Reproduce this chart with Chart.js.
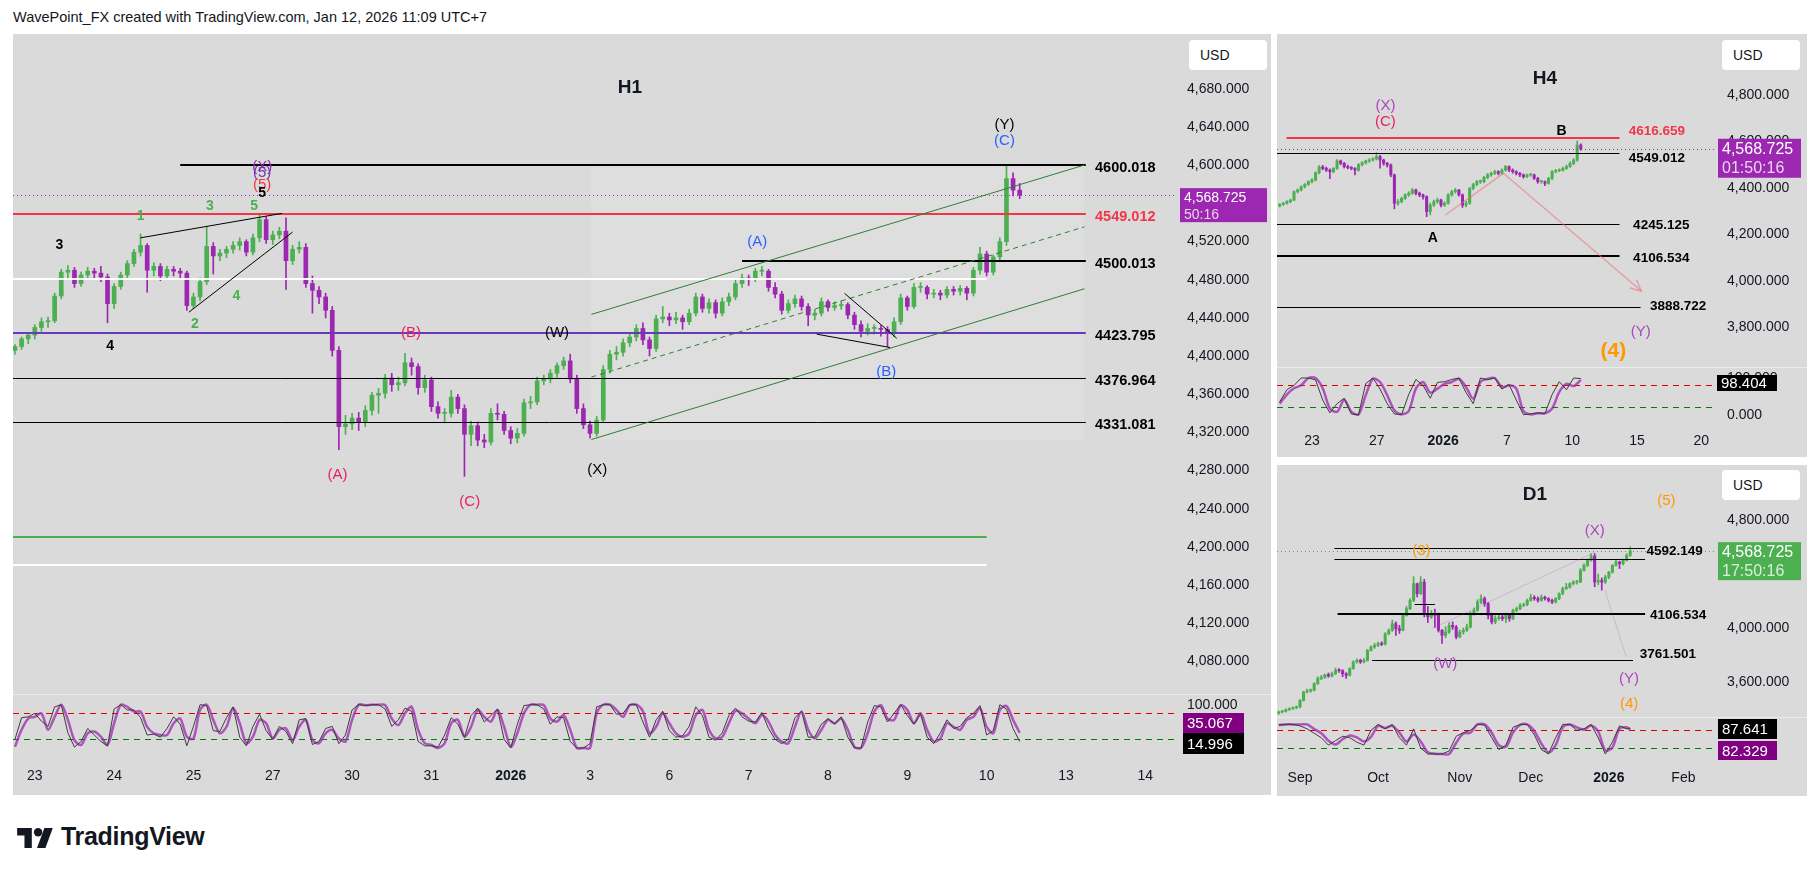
<!DOCTYPE html>
<html lang="en">
<head>
<meta charset="UTF-8" />
<title>XAUUSD H1 / H4 / D1</title>
<script src="https://cdn.jsdelivr.net/npm/chart.js"></script>
<style>
  body { margin: 0; width: 1819px; height: 871px; background: #fff; position: relative; overflow: hidden;
         font-family: "Liberation Sans", Arial, sans-serif; color: #131722; }
  .panel { position: absolute; background: #dadada; }
  canvas { position: absolute; }
  .usd { position: absolute; width: 78px; height: 30px; background: #fff; border-radius: 4px;
         font-size: 14px; line-height: 30px; padding-left: 11px; box-sizing: border-box; }
  .title { position: absolute; font-weight: bold; font-size: 19px; transform: translate(-50%, -50%); }
</style>
</head>
<body>
<div style="position:absolute;left:13px;top:9px;font-size:14.5px">WavePoint_FX created with TradingView.com, Jan 12, 2026 11:09 UTC+7</div>

<div class="panel" style="left:13px;top:34px;width:1258px;height:761px"></div>
<div class="panel" style="left:1277px;top:34px;width:530px;height:423px"></div>
<div class="panel" style="left:1277px;top:465px;width:530px;height:331px"></div>

<canvas id="h1p" width="1258" height="660" style="left:13px;top:34px"></canvas>
<canvas id="h1s" width="1258" height="101" style="left:13px;top:694px"></canvas>
<canvas id="h4p" width="530" height="333" style="left:1277px;top:34px"></canvas>
<canvas id="h4s" width="530" height="90" style="left:1277px;top:367px"></canvas>
<canvas id="d1p" width="530" height="252" style="left:1277px;top:465px"></canvas>
<canvas id="d1s" width="530" height="79" style="left:1277px;top:717px"></canvas>

<div class="usd" style="left:1189px;top:40px">USD</div>
<div class="usd" style="left:1722px;top:40px">USD</div>
<div class="usd" style="left:1722px;top:470px">USD</div>
<div class="title" style="left:630px;top:87px">H1</div>
<div class="title" style="left:1545px;top:78px">H4</div>
<div class="title" style="left:1535px;top:494px">D1</div>

<div style="position:absolute;left:17px;top:822px;display:flex;align-items:center">
  <svg width="38" height="22" viewBox="0 0 36 21"><path d="M14 21H7V9H0V2h14z" fill="#131722"/><circle cx="20" cy="6" r="4" fill="#131722"/><path d="M27 21h-8l7-19h8z" fill="#131722"/></svg>
  <span style="font-weight:bold;font-size:25px;margin-left:6px;letter-spacing:-0.3px">TradingView</span>
</div>

<script>
const FONT = '"Liberation Sans", Arial, sans-serif';
const UP = '#4caf50';
const DOWN = '#9c27b0';

// ---- H1 (2-hour candles, 12 per session; index 0 = session "23") ----
const h1Start = -3;
const h1FirstOpen = 4406;
const h1Close = [4410, 4418, 4422, 4430, 4436, 4437, 4463, 4488, 4490, 4476, 4485, 4489, 4487,
  4483, 4455, 4473, 4485, 4497, 4509, 4516, 4490, 4494, 4484,
  4491, 4489, 4487, 4453, 4462, 4478, 4515, 4505, 4508, 4512,
  4516, 4520, 4509, 4524, 4543, 4522, 4527, 4531, 4500, 4512,
  4514, 4476, 4469, 4462, 4448, 4406, 4326, 4329, 4335, 4331,
  4343, 4359, 4361, 4377, 4370, 4372, 4393, 4389, 4367, 4375,
  4347, 4340, 4340, 4357, 4345, 4318, 4327, 4312, 4310, 4340,
  4339, 4322, 4314, 4319, 4351, 4352, 4374, 4376, 4382, 4390,
  4395, 4376, 4345, 4328, 4319, 4333, 4386, 4402, 4404, 4414,
  4420, 4429, 4417, 4408, 4439, 4441, 4438, 4440, 4436, 4445,
  4462, 4450, 4456, 4445, 4457, 4462, 4476, 4482, 4481, 4489,
  4489, 4472, 4465, 4448, 4455, 4460, 4452, 4443, 4445, 4457,
  4451, 4453, 4454, 4443, 4433, 4426, 4429, 4429, 4428, 4425,
  4436, 4461, 4452, 4472, 4472, 4465, 4466, 4464, 4470, 4468,
  4471, 4466, 4490, 4507, 4488, 4504, 4520, 4586, 4574, 4568.725];
const h1High = [4412, 4420, 4425, 4433, 4440, 4441, 4466, 4491, 4495, 4493, 4488, 4493, 4492,
  4494, 4486, 4476, 4488, 4500, 4512, 4528, 4518, 4498, 4497,
  4494, 4494, 4492, 4489, 4466, 4482, 4536, 4519, 4512, 4515,
  4520, 4524, 4522, 4528, 4548, 4546, 4531, 4535, 4545, 4516,
  4520, 4518, 4484, 4473, 4466, 4452, 4410, 4338, 4340, 4341,
  4348, 4362, 4366, 4381, 4382, 4378, 4403, 4398, 4392, 4380,
  4378, 4352, 4345, 4364, 4360, 4349, 4332, 4331, 4318, 4345,
  4350, 4342, 4326, 4324, 4355, 4358, 4378, 4380, 4386, 4393,
  4399, 4402, 4380, 4350, 4332, 4337, 4390, 4406, 4410, 4418,
  4424, 4433, 4435, 4420, 4443, 4452, 4445, 4446, 4443, 4449,
  4466, 4465, 4460, 4459, 4461, 4466, 4480, 4486, 4485, 4492,
  4494, 4491, 4477, 4468, 4459, 4464, 4463, 4455, 4449, 4461,
  4459, 4457, 4458, 4456, 4446, 4437, 4434, 4433, 4432, 4431,
  4440, 4465, 4463, 4476, 4477, 4474, 4470, 4469, 4473, 4473,
  4474, 4473, 4493, 4514, 4510, 4506, 4524, 4600, 4592, 4581];
const h1Low = [4402, 4407, 4413, 4418, 4426, 4430, 4435, 4460, 4482, 4472, 4473, 4481, 4482,
  4478, 4435, 4450, 4470, 4482, 4494, 4505, 4467, 4484, 4479,
  4480, 4484, 4482, 4448, 4450, 4458, 4475, 4486, 4500, 4503,
  4508, 4511, 4505, 4506, 4520, 4518, 4517, 4523, 4470, 4496,
  4508, 4472, 4445, 4455, 4440, 4400, 4302, 4318, 4323, 4322,
  4326, 4338, 4340, 4356, 4363, 4364, 4369, 4380, 4360, 4362,
  4342, 4335, 4330, 4336, 4340, 4274, 4306, 4306, 4304, 4307,
  4333, 4318, 4308, 4309, 4316, 4345, 4349, 4370, 4372, 4378,
  4386, 4372, 4340, 4324, 4314, 4316, 4330, 4382, 4396, 4400,
  4410, 4416, 4412, 4400, 4405, 4435, 4432, 4434, 4428, 4433,
  4442, 4446, 4445, 4440, 4442, 4453, 4459, 4472, 4474, 4478,
  4484, 4468, 4461, 4444, 4445, 4451, 4448, 4432, 4438, 4442,
  4447, 4448, 4449, 4439, 4428, 4420, 4422, 4423, 4421, 4410,
  4420, 4433, 4448, 4450, 4467, 4460, 4461, 4459, 4461, 4464,
  4464, 4459, 4463, 4486, 4484, 4485, 4500, 4516, 4568, 4565];
const h1StochK = [20, 70, 72, 80, 62, 50, 95, 100, 35, 2, 15, 45, 30,
  15, 5, 90, 100, 88, 88, 70, 30, 32, 25,
  45, 72, 55, 5, 50, 100, 98, 40, 38, 70,
  95, 25, 5, 50, 78, 40, 20, 50, 38, 10,
  65, 68, 8, 15, 45, 50, 10, 30, 88, 100,
  98, 100, 100, 90, 50, 65, 92, 85, 15, 5,
  5, 2, 30, 70, 55, 25, 75, 92, 60, 75,
  90, 20, 0, 55, 98, 100, 100, 90, 55, 72,
  70, 15, 0, 0, 10, 95, 100, 100, 78, 80,
  100, 100, 60, 25, 65, 85, 40, 25, 28, 50,
  95, 75, 25, 18, 35, 75, 92, 72, 62, 60,
  82, 45, 20, 10, 20, 70, 85, 25, 25, 55,
  68, 55, 72, 25, 0, 0, 60, 98, 95, 60,
  80, 100, 75, 55, 78, 25, 10, 35, 65, 45,
  50, 70, 80, 98, 30, 40, 100, 90, 45, 14.996];
const h1StochD = [3, 42, 68, 72, 80, 42, 72, 100, 65, 18, 7, 34, 38,
  26, 7, 57, 100, 95, 84, 84, 49, 34, 30,
  30, 57, 68, 26, 22, 88, 100, 65, 34, 49,
  92, 57, 11, 26, 65, 57, 22, 42, 45, 18,
  49, 65, 18, 11, 34, 42, 22, 15, 65, 100,
  99, 100, 100, 99, 68, 53, 80, 95, 42, 11,
  7, 0, 11, 57, 65, 26, 49, 88, 72, 61,
  88, 49, 3, 34, 80, 100, 100, 99, 68, 61,
  76, 42, 0, 0, 0, 80, 100, 100, 88, 72,
  99, 100, 85, 34, 49, 80, 57, 34, 26, 34,
  76, 88, 42, 22, 26, 57, 86, 80, 68, 57,
  76, 61, 30, 15, 11, 49, 84, 42, 22, 42,
  65, 57, 68, 42, 3, 0, 34, 84, 99, 68,
  65, 99, 88, 57, 80, 42, 15, 22, 57, 49,
  42, 65, 72, 92, 49, 34, 88, 97, 65, 35.067];
const h1DayPos = [0, 12, 24, 36, 48, 60, 72, 84, 96, 108, 120, 132, 144, 156, 168];
const h1DayLabels = ['23', '24', '25', '27', '30', '31', '2026', '3', '6', '7', '8', '9', '10', '13', '14'];
const h1PriceTicks = [4080, 4120, 4160, 4200, 4240, 4280, 4320, 4360, 4400, 4440, 4480, 4520, 4560, 4600, 4640, 4680];

// ---- H4 ----
const h4FirstOpen = 4322;
const h4Close = [4329, 4334, 4341, 4348, 4384, 4391, 4405, 4415, 4427, 4434,
  4465, 4490, 4484, 4477, 4470, 4484, 4516, 4506, 4492, 4487,
  4484, 4477, 4500, 4508, 4516, 4520, 4525, 4535, 4520, 4506,
  4499, 4456, 4334, 4341, 4355, 4370, 4377, 4391, 4377, 4370,
  4362, 4298, 4326, 4341, 4348, 4326, 4334, 4370, 4384, 4391,
  4370, 4326, 4334, 4398, 4415, 4427, 4427, 4445, 4456, 4463,
  4470, 4463, 4477, 4492, 4477, 4470, 4463, 4456, 4449, 4456,
  4456, 4441, 4427, 4427, 4420, 4441, 4470, 4474, 4477, 4484,
  4492, 4506, 4520, 4585, 4568.725];
const h4High = [4333, 4338, 4345, 4352, 4388, 4396, 4409, 4419, 4431, 4440,
  4470, 4496, 4497, 4490, 4482, 4488, 4522, 4520, 4510, 4498,
  4492, 4488, 4505, 4514, 4520, 4526, 4531, 4552, 4540, 4524,
  4510, 4503, 4460, 4350, 4360, 4375, 4384, 4398, 4395, 4382,
  4374, 4366, 4334, 4348, 4356, 4352, 4340, 4376, 4390, 4398,
  4394, 4374, 4342, 4402, 4420, 4432, 4434, 4450, 4462, 4468,
  4476, 4474, 4482, 4497, 4495, 4482, 4474, 4467, 4460, 4460,
  4462, 4460, 4446, 4433, 4431, 4446, 4475, 4480, 4482, 4490,
  4498, 4512, 4526, 4602, 4590];
const h4Low = [4318, 4325, 4330, 4336, 4345, 4378, 4387, 4400, 4411, 4422,
  4430, 4460, 4478, 4470, 4440, 4465, 4480, 4500, 4486, 4482,
  4478, 4456, 4472, 4495, 4503, 4510, 4515, 4520, 4485, 4498,
  4490, 4448, 4310, 4326, 4336, 4350, 4364, 4372, 4370, 4362,
  4352, 4276, 4284, 4320, 4334, 4318, 4320, 4330, 4364, 4378,
  4364, 4316, 4318, 4330, 4392, 4410, 4419, 4422, 4440, 4450,
  4458, 4456, 4458, 4472, 4470, 4463, 4456, 4448, 4442, 4444,
  4450, 4436, 4420, 4420, 4410, 4416, 4436, 4465, 4470, 4472,
  4480, 4488, 4500, 4515, 4562];
const h4StochX = [0, 2, 4, 6, 8, 10, 12, 14, 16, 18, 20, 22, 24, 26, 28, 30, 32, 34, 36, 38, 40, 42,
  44, 46, 48, 50, 52, 54, 56, 58, 60, 62, 64, 66, 68, 70, 72, 74, 76, 78, 80, 82, 84];
const h4StochK = [35, 68, 80, 100, 100, 95, 40, 5, 30, 45, 2, 0, 85, 100, 70, 30, 2, 0, 55, 96, 80, 45,
  88, 90, 96, 100, 60, 30, 100, 95, 100, 70, 82, 40, 0, 2, 5, 3, 55, 90, 68, 100, 98.404];
const h4StochD = [30, 55, 72, 80, 100, 100, 72, 17, 8, 40, 8, 1, 53, 98, 89, 53, 12, 1, 10, 71, 89, 60,
  71, 84, 89, 98, 75, 44, 89, 98, 100, 75, 80, 71, 10, 1, 4, 4, 17, 62, 84, 78, 95];
const h4DayPos = [9.0, 27.1, 45.6, 63.4, 81.6, 99.7, 117.6];
const h4DayLabels = ['23', '27', '2026', '7', '10', '15', '20'];
const h4PriceTicks = [3800, 4000, 4200, 4400, 4600, 4800];

// ---- D1 (index 0 = Sep 1) ----
const d1Start = -6;
const d1FirstOpen = 3370;
const d1Close = [3379, 3384, 3396, 3404, 3410, 3416, 3465, 3527, 3535, 3540,
  3589, 3626, 3636, 3655, 3645, 3662, 3687, 3685, 3662, 3650,
  3700, 3749, 3761, 3750, 3761, 3835, 3860, 3872, 3885, 3880,
  3958, 3983, 4032, 3995, 3983, 4094, 4143, 4205, 4328, 4254,
  4340, 4106, 4082, 4106, 4094, 3983, 3946, 3970, 4020, 4008,
  3934, 3970, 3983, 4008, 4106, 4131, 4193, 4217, 4180, 4094,
  4045, 4070, 4082, 4070, 4094, 4070, 4131, 4143, 4168, 4173,
  4205, 4227, 4217, 4205, 4227, 4217, 4205, 4193, 4217, 4254,
  4291, 4303, 4328, 4340, 4340, 4427, 4464, 4501, 4533, 4340,
  4352, 4340, 4377, 4414, 4464, 4488, 4476, 4501, 4538, 4568.725];
const d1High = [3386, 3392, 3402, 3410, 3418, 3424, 3470, 3533, 3548, 3550,
  3596, 3640, 3650, 3660, 3668, 3674, 3704, 3700, 3692, 3670,
  3706, 3758, 3772, 3770, 3776, 3842, 3868, 3888, 3896, 3898,
  3966, 3995, 4059, 4045, 4020, 4100, 4160, 4218, 4380, 4332,
  4380, 4360, 4160, 4130, 4140, 4110, 3990, 4010, 4040, 4046,
  4020, 3985, 4000, 4030, 4120, 4150, 4210, 4245, 4230, 4190,
  4110, 4090, 4100, 4096, 4110, 4105, 4140, 4155, 4180, 4185,
  4215, 4250, 4240, 4230, 4245, 4236, 4225, 4215, 4225, 4260,
  4302, 4330, 4335, 4350, 4352, 4440, 4475, 4512, 4550, 4550,
  4400, 4370, 4390, 4420, 4470, 4500, 4495, 4510, 4550, 4600];
const d1Low = [3362, 3372, 3378, 3390, 3398, 3402, 3410, 3460, 3520, 3525,
  3535, 3582, 3618, 3628, 3636, 3638, 3656, 3672, 3640, 3628,
  3645, 3695, 3740, 3738, 3742, 3755, 3828, 3850, 3862, 3870,
  3875, 3950, 3975, 3945, 3960, 3978, 4088, 4136, 4195, 4230,
  4248, 4082, 4040, 4070, 4005, 3970, 3886, 3928, 3960, 3990,
  3920, 3928, 3955, 3975, 4000, 4096, 4124, 4180, 4160, 4068,
  4030, 4032, 4058, 4055, 4040, 4050, 4062, 4120, 4135, 4158,
  4165, 4198, 4205, 4192, 4198, 4206, 4192, 4180, 4185, 4210,
  4246, 4285, 4295, 4318, 4325, 4335, 4420, 4455, 4495, 4305,
  4320, 4280, 4330, 4365, 4405, 4458, 4440, 4466, 4495, 4530];
const d1StochX = [-6, -4, -2, 0, 2, 4, 6, 8, 10, 12, 14, 16, 18, 20, 22, 24, 26, 28, 30, 32, 34, 36, 38, 40, 42,
  44, 46, 48, 50, 52, 54, 56, 58, 60, 62, 64, 66, 68, 70, 72, 74, 76, 78, 80, 82, 84, 86, 88, 90, 92, 93];
const d1StochK = [100, 100, 100, 95, 85, 70, 55, 30, 45, 60, 55, 40, 30, 80, 100, 85, 100, 55, 30, 85, 20, 0, 0, 0, 10,
  60, 72, 80, 100, 98, 55, 15, 30, 90, 100, 100, 65, 15, 0, 55, 100, 100, 80, 85, 100, 55, 0, 40, 95, 85, 87.641];
const d1StochD = [97, 100, 100, 100, 100, 84, 70, 45, 32, 50, 62, 56, 42, 58, 95, 88, 95, 72, 42, 66, 42, 6, 1, 0, 0,
  38, 69, 72, 100, 100, 72, 30, 24, 72, 98, 100, 78, 35, 5, 30, 90, 100, 90, 82, 96, 76, 12, 22, 86, 90, 82.329];
const d1MonthPos = [0, 22, 45, 65, 87, 108];
const d1MonthLabels = ['Sep', 'Oct', 'Nov', 'Dec', '2026', 'Feb'];
const d1PriceTicks = [3600, 4000, 4400, 4800];

// ---------- helpers ----------
function candleSets(start, firstOpen, close, high, low, bodyW) {
  const bodies = [], wicks = [], colors = [];
  close.forEach((c, i) => {
    const o = i === 0 ? firstOpen : close[i - 1];
    const x = start + i;
    bodies.push({ x, y: [Math.min(o, c), Math.max(o, c)] });
    wicks.push({ x, y: [Math.min(low[i], o, c), Math.max(high[i], o, c)] });
    colors.push(c >= o ? UP : DOWN);
  });
  return [
    { type: 'bar', data: bodies, backgroundColor: colors, barThickness: bodyW, minBarLength: 1, grouped: false, borderWidth: 0 },
    { type: 'bar', data: wicks, backgroundColor: colors, barThickness: 1, grouped: false, borderWidth: 0 }
  ];
}

const pts = (xs, ys) => ys.map((v, i) => ({ x: xs[i], y: v }));
const seq = (start, ys) => ys.map((v, i) => ({ x: start + i, y: v }));
const fmt = v => v.toLocaleString('en-US', { minimumFractionDigits: 3, maximumFractionDigits: 3 });
// keep the plot area exactly the canvas size minus the axis strip
const noPad = s => { s.paddingTop = 0; s.paddingBottom = 0; s.paddingLeft = 0; s.paddingRight = 0; };

function drawingsPlugin(d) {
  return {
    id: 'drawings',
    beforeDatasetsDraw(chart) {
      const { ctx, chartArea: a, scales: { x, y } } = chart;
      ctx.save();
      (d.rects || []).forEach(r => {
        const x1 = x.getPixelForValue(r.x1), x2 = x.getPixelForValue(r.x2);
        const y1 = y.getPixelForValue(r.y2), y2 = y.getPixelForValue(r.y1);
        ctx.fillStyle = r.color;
        ctx.fillRect(x1, y1, x2 - x1, y2 - y1);
      });
      if (d.bands) {
        d.bands.forEach(b => {
          const py = Math.round(y.getPixelForValue(b.y)) + 0.5;
          ctx.strokeStyle = b.color; ctx.lineWidth = 1; ctx.setLineDash([6, 5]);
          ctx.beginPath(); ctx.moveTo(a.left, py); ctx.lineTo(a.right, py); ctx.stroke();
        });
        ctx.setLineDash([]);
        ctx.strokeStyle = '#ececf0'; ctx.lineWidth = 1;
        ctx.beginPath(); ctx.moveTo(0, 0.5); ctx.lineTo(chart.width, 0.5); ctx.stroke();
      }
      ctx.restore();
    },
    afterDatasetsDraw(chart) {
      const { ctx, chartArea: a, scales: { x, y } } = chart;
      ctx.save();
      ctx.beginPath(); ctx.rect(a.left, a.top, a.right - a.left, a.bottom - a.top); ctx.clip();
      (d.hlines || []).forEach(l => {
        const py = Math.round(y.getPixelForValue(l.y)) + ((l.w || 1) % 2 ? 0.5 : 0);
        ctx.strokeStyle = l.color; ctx.lineWidth = l.w || 1; ctx.setLineDash(l.dash || []);
        ctx.beginPath();
        ctx.moveTo(l.x1 == null ? a.left : x.getPixelForValue(l.x1), py);
        ctx.lineTo(l.x2 == null ? a.right : x.getPixelForValue(l.x2), py);
        ctx.stroke();
      });
      ctx.setLineDash([]);
      (d.segs || []).forEach(s => {
        const x1 = x.getPixelForValue(s.x1), y1 = y.getPixelForValue(s.y1);
        const x2 = x.getPixelForValue(s.x2), y2 = y.getPixelForValue(s.y2);
        ctx.strokeStyle = s.color; ctx.lineWidth = s.w || 1; ctx.setLineDash(s.dash || []);
        ctx.beginPath(); ctx.moveTo(x1, y1); ctx.lineTo(x2, y2); ctx.stroke();
        if (s.arrow) {
          const ang = Math.atan2(y2 - y1, x2 - x1);
          ctx.setLineDash([]);
          ctx.beginPath();
          ctx.moveTo(x2 - 12 * Math.cos(ang - 0.45), y2 - 12 * Math.sin(ang - 0.45));
          ctx.lineTo(x2, y2);
          ctx.lineTo(x2 - 12 * Math.cos(ang + 0.45), y2 - 12 * Math.sin(ang + 0.45));
          ctx.stroke();
        }
      });
      ctx.setLineDash([]);
      (d.texts || []).forEach(t => {
        ctx.font = `${t.bold ? 'bold ' : ''}${t.size || 15}px ${FONT}`;
        ctx.fillStyle = t.color || '#000';
        ctx.textAlign = t.align || 'center';
        ctx.textBaseline = 'middle';
        ctx.fillText(t.s, x.getPixelForValue(t.x), y.getPixelForValue(t.y) + (t.dy || 0));
      });
      ctx.restore();
    },
    afterDraw(chart) {
      const { ctx, chartArea: a, scales: { y } } = chart;
      ctx.save();
      (d.boxes || []).forEach(b => {
        const top = b.v != null ? y.getPixelForValue(b.v) + b.off : b.top;
        ctx.fillStyle = b.bg;
        ctx.fillRect(a.right + b.dx, top, b.w, b.h);
        ctx.textAlign = 'left'; ctx.textBaseline = 'middle';
        b.lines.forEach((s, i) => {
          ctx.font = `${b.size || 15}px ${FONT}`;
          ctx.fillStyle = i === 0 ? '#fff' : 'rgba(255,255,255,0.8)';
          ctx.fillText(s, a.right + b.dx + 4, top + b.lh / 2 + 1 + i * b.lh);
        });
      });
      ctx.restore();
    }
  };
}

function priceChart(id, sets, xr, yr, axisW, yTicks, drawings) {
  return new Chart(document.getElementById(id), {
    type: 'bar',
    data: { datasets: sets },
    options: {
      responsive: false, animation: false, events: [],
      layout: { padding: 0, autoPadding: false },
      plugins: { legend: { display: false }, tooltip: { enabled: false } },
      scales: {
        x: { type: 'linear', min: xr[0], max: xr[1], bounds: 'data', display: false, offset: false, afterFit: noPad },
        y: {
          position: 'right', min: yr[0], max: yr[1], bounds: 'data',
          grid: { display: false, drawTicks: false }, border: { display: false },
          afterFit: s => { s.width = axisW; noPad(s); },
          afterBuildTicks: s => { s.ticks = yTicks.map(v => ({ value: v })); },
          ticks: { padding: 10, color: '#131722', autoSkip: false, font: { family: FONT, size: 14 }, callback: v => fmt(v) }
        }
      }
    },
    plugins: [drawingsPlugin(drawings)]
  });
}

function stochChart(id, kPts, dPts, xr, yr, axisW, axisH, pad, xPos, xLabels, yTicks, boxes) {
  return new Chart(document.getElementById(id), {
    type: 'line',
    data: {
      datasets: [
        { data: kPts, borderColor: '#3c3c3c', borderWidth: 1, pointRadius: 0, tension: 0 },
        { data: dPts, borderColor: 'rgba(156,39,176,0.75)', borderWidth: 2.5, pointRadius: 0, tension: 0.3 }
      ]
    },
    options: {
      responsive: false, animation: false, events: [],
      layout: { padding: 0, autoPadding: false },
      plugins: { legend: { display: false }, tooltip: { enabled: false } },
      scales: {
        x: {
          type: 'linear', min: xr[0], max: xr[1], bounds: 'data', offset: false,
          grid: { display: false, drawTicks: false }, border: { display: false },
          afterFit: s => { s.height = axisH; noPad(s); },
          afterBuildTicks: s => { s.ticks = xPos.map(v => ({ value: v })); },
          ticks: {
            autoSkip: false, maxRotation: 0, padding: pad, color: '#131722',
            font: ctx => ({ family: FONT, size: 14, weight: xLabels[ctx.index] === '2026' ? 'bold' : 'normal' }),
            callback: (v, i) => xLabels[i]
          }
        },
        y: {
          position: 'right', min: yr[0], max: yr[1], bounds: 'data',
          grid: { display: false, drawTicks: false }, border: { display: false },
          afterFit: s => { s.width = axisW; noPad(s); },
          afterBuildTicks: s => { s.ticks = yTicks.map(v => ({ value: v })); },
          ticks: { padding: 10, color: '#131722', autoSkip: false, font: { family: FONT, size: 14 }, callback: v => fmt(v) }
        }
      }
    },
    plugins: [drawingsPlugin({ bands: [{ y: 80, color: '#e00000' }, { y: 20, color: '#008000' }], boxes })]
  });
}

// ---------- H1 ----------
const black = '#000', pink = '#e91e63', blue = '#2962ff', green = '#4caf50', violet = '#9c27b0', chan = '#2e7d32';
priceChart('h1p', candleSets(h1Start, h1FirstOpen, h1Close, h1High, h1Low, 4), [-3.3, 172.8], [4045.8, 4737.65], 94, h1PriceTicks, {
  rects: [{ x1: 84.2, x2: 158.8, y1: 4312, y2: 4600, color: 'rgba(255,255,255,0.13)' }],
  hlines: [
    { y: 4600.018, x1: 22, x2: 159, color: black, w: 2 },
    { y: 4568.725, color: violet, w: 1, dash: [1, 3] },
    { y: 4549.012, x2: 159, color: '#f23645', w: 2 },
    { y: 4481, x2: 144, color: '#ffffff', w: 2 },
    { y: 4500.013, x1: 107, x2: 159, color: black, w: 2 },
    { y: 4423.795, x2: 159, color: '#673ab7', w: 2 },
    { y: 4376.964, x2: 159, color: black, w: 1 },
    { y: 4331.081, x2: 159, color: black, w: 1 },
    { y: 4210, x2: 144, color: green, w: 2 },
    { y: 4181, x2: 144, color: '#ffffff', w: 2 }
  ],
  segs: [
    { x1: 84.2, y1: 4443.7, x2: 158.8, y2: 4600.3, color: chan },
    { x1: 84.2, y1: 4378, x2: 158.8, y2: 4535.5, color: chan, dash: [5, 4] },
    { x1: 84.2, y1: 4312.5, x2: 158.8, y2: 4470.6, color: chan },
    { x1: 16, y1: 4524, x2: 37.4, y2: 4549.6, color: black },
    { x1: 23.3, y1: 4446, x2: 39, y2: 4530, color: black },
    { x1: 122.5, y1: 4465.8, x2: 130.4, y2: 4418.7, color: black },
    { x1: 118.3, y1: 4423, x2: 129.4, y2: 4409, color: black }
  ],
  texts: [
    { s: '4600.018', x: 160.4, y: 4600.018, dy: 3, align: 'left', bold: true, size: 14.5 },
    { s: '4549.012', x: 160.4, y: 4549.012, dy: 3, align: 'left', bold: true, size: 14.5, color: '#f23645' },
    { s: '4500.013', x: 160.4, y: 4500.013, dy: 3, align: 'left', bold: true, size: 14.5 },
    { s: '4423.795', x: 160.4, y: 4423.795, dy: 3, align: 'left', bold: true, size: 14.5 },
    { s: '4376.964', x: 160.4, y: 4376.964, dy: 3, align: 'left', bold: true, size: 14.5 },
    { s: '4331.081', x: 160.4, y: 4331.081, dy: 3, align: 'left', bold: true, size: 14.5 },
    { s: '3', x: 3.7, y: 4516, bold: true, size: 14 },
    { s: '4', x: 11.4, y: 4410, bold: true, size: 14 },
    { s: '1', x: 16, y: 4547, bold: true, size: 14, color: green },
    { s: '2', x: 24.2, y: 4434, bold: true, size: 14, color: green },
    { s: '3', x: 26.5, y: 4557, bold: true, size: 14, color: green },
    { s: '4', x: 30.5, y: 4463, bold: true, size: 14, color: green },
    { s: '5', x: 33.2, y: 4557, bold: true, size: 14, color: green },
    { s: '(X)', x: 34.4, y: 4598.6, color: violet },
    { s: '(5)', x: 34.4, y: 4591.6, color: '#673ab7' },
    { s: '(5)', x: 34.4, y: 4579, color: '#f23645' },
    { s: '5', x: 34.4, y: 4570.7, bold: true, size: 14 },
    { s: '(A)', x: 45.8, y: 4276, color: pink },
    { s: '(B)', x: 56.9, y: 4424, color: pink },
    { s: '(C)', x: 65.8, y: 4247, color: pink },
    { s: '(W)', x: 79, y: 4424 },
    { s: '(X)', x: 85.1, y: 4281 },
    { s: '(A)', x: 109.3, y: 4520, color: blue },
    { s: '(B)', x: 128.8, y: 4383, color: blue },
    { s: '(Y)', x: 146.7, y: 4642 },
    { s: '(C)', x: 146.7, y: 4626, color: blue }
  ],
  boxes: [{ v: 4568.725, off: -7, dx: 3, w: 87, h: 34, lh: 17, bg: violet, size: 14, lines: ['4,568.725', '50:16'] }]
});
stochChart('h1s', seq(h1Start, h1StochK), seq(h1Start, h1StochD), [-3.3, 172.8], [-23.1, 124.7], 94, 37, 10,
  h1DayPos, h1DayLabels, [0, 100], [
    { top: 19, dx: 6, w: 61, h: 20, lh: 20, bg: '#800080', lines: ['35.067'] },
    { top: 39, dx: 6, w: 61, h: 21, lh: 21, bg: '#000', lines: ['14.996'] }
  ]);

// ---------- H4 ----------
priceChart('h4p', candleSets(0, h4FirstOpen, h4Close, h4High, h4Low, 2.4), [-0.75, 122.0], [3628.8, 5062.9], 90, h4PriceTicks, {
  hlines: [
    { y: 4616.659, x1: 1.9, x2: 94.8, color: '#f23645', w: 2 },
    { y: 4568.725, color: violet, w: 1, dash: [1, 3] },
    { y: 4549.012, x2: 94.8, color: black, w: 1 },
    { y: 4245.125, x2: 94.8, color: black, w: 1 },
    { y: 4106.534, x2: 94.8, color: black, w: 2 },
    { y: 3888.722, x2: 100.7, color: black, w: 1 }
  ],
  segs: [
    { x1: 46.2, y1: 4283.4, x2: 62.4, y2: 4463, color: 'rgba(236,110,120,0.55)', w: 1.5 },
    { x1: 62.4, y1: 4463, x2: 100.9, y2: 3956, color: 'rgba(236,110,120,0.55)', w: 1.5, arrow: true }
  ],
  texts: [
    { s: '4616.659', x: 97.4, y: 4616.659, dy: -6, align: 'left', bold: true, size: 13.5, color: '#f23645' },
    { s: '4549.012', x: 97.4, y: 4549.012, dy: 5, align: 'left', bold: true, size: 13.5 },
    { s: '4245.125', x: 98.6, y: 4245.125, dy: 1, align: 'left', bold: true, size: 13.5 },
    { s: '4106.534', x: 98.6, y: 4106.534, dy: 2, align: 'left', bold: true, size: 13.5 },
    { s: '3888.722', x: 103.3, y: 3888.722, dy: 0, align: 'left', bold: true, size: 13.5 },
    { s: '(X)', x: 29.5, y: 4752.8, color: '#ab47bc' },
    { s: '(C)', x: 29.5, y: 4685.2, color: pink },
    { s: 'B', x: 78.6, y: 4645, bold: true, size: 14 },
    { s: 'A', x: 42.7, y: 4185.6, bold: true, size: 14 },
    { s: '(Y)', x: 100.7, y: 3780.8, color: '#ab47bc' },
    { s: '(4)', x: 93.1, y: 3697.7, color: '#ff9800', bold: true, size: 21 }
  ],
  boxes: [{ v: 4568.725, off: -10, dx: 1, w: 83, h: 39, lh: 19, bg: violet, size: 16, lines: ['4,568.725', '01:50:16'] }]
});
stochChart('h4s', pts(h4StochX, h4StochK), pts(h4StochX, h4StochD), [-0.75, 122.0], [-14.4, 130], 90, 37, 13,
  h4DayPos, h4DayLabels, [0, 100], [
    { top: 8, dx: 0, w: 60, h: 16, lh: 16, bg: '#000', lines: ['98.404'] }
  ]);

// ---------- D1 ----------
priceChart('d1p', candleSets(d1Start, d1FirstOpen, d1Close, d1High, d1Low, 2.4), [-6.48, 117.46], [3342.0, 5205.9], 90, d1PriceTicks, {
  hlines: [
    { y: 4592.149, x1: 9.7, x2: 97.2, color: black, w: 1 },
    { y: 4508, x1: 9.7, x2: 97.2, color: black, w: 1 },
    { y: 4568.725, color: green, w: 1, dash: [1, 3] },
    { y: 4180, x1: 32.3, x2: 38, color: black, w: 1 },
    { y: 4106.534, x1: 10.6, x2: 97.2, color: black, w: 2 },
    { y: 3761.501, x1: 20.3, x2: 93.8, color: black, w: 1 }
  ],
  segs: [
    { x1: 37.1, y1: 3995, x2: 83.2, y2: 4562.4, color: 'rgba(171,71,188,0.25)' },
    { x1: 85.9, y1: 4279, x2: 91.9, y2: 3785.8, color: 'rgba(171,71,188,0.25)' }
  ],
  texts: [
    { s: '4592.149', x: 97.6, y: 4592.149, dy: 3, align: 'left', bold: true, size: 13.5 },
    { s: '4106.534', x: 98.6, y: 4106.534, dy: 2, align: 'left', bold: true, size: 13.5 },
    { s: '3761.501', x: 95.7, y: 3761.501, dy: -6, align: 'left', bold: true, size: 13.5 },
    { s: '(5)', x: 103.2, y: 4939.6, color: '#ff9800' },
    { s: '(X)', x: 83.0, y: 4717.7, color: '#ab47bc' },
    { s: '(3)', x: 34.2, y: 4567.4, color: '#ff9800' },
    { s: '(W)', x: 40.9, y: 3736, color: '#ab47bc' },
    { s: '(Y)', x: 92.7, y: 3621.6, color: '#ab47bc' },
    { s: '(4)', x: 92.7, y: 3436.7, color: '#ff9800' }
  ],
  boxes: [{ v: 4568.725, off: -9, dx: 1, w: 83, h: 38, lh: 19, bg: green, size: 16, lines: ['4,568.725', '17:50:16'] }]
});
stochChart('d1s', pts(d1StochX, d1StochK), pts(d1StochX, d1StochD), [-6.48, 117.46], [-20.3, 125], 90, 36, 10,
  d1MonthPos, d1MonthLabels, [0], [
    { top: 2, dx: 1, w: 59, h: 20, lh: 20, bg: '#000', lines: ['87.641'] },
    { top: 24, dx: 1, w: 59, h: 19, lh: 19, bg: '#800080', lines: ['82.329'] }
  ]);
</script>
</body>
</html>
